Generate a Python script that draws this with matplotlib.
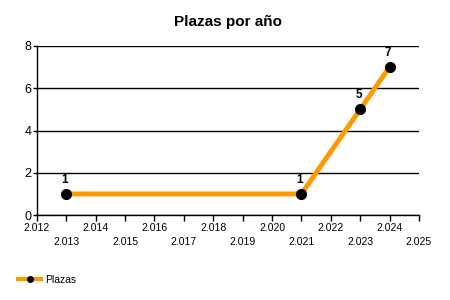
import matplotlib
matplotlib.use("Agg")
import matplotlib.pyplot as plt
from matplotlib.lines import Line2D

plt.rcParams["font.family"] = ["Liberation Sans", "DejaVu Sans"]

# data
years = [2013, 2021, 2023, 2024]
plazas = [1, 1, 5, 7]
x_ticks = list(range(2012, 2026))
y_ticks = [0, 2, 4, 6, 8]

ORANGE = "#FF9900"


def fmt_year(y):
    s = f"{y:,}".replace(",", ".")
    # odd years go on the second row
    return s if y % 2 == 0 else "\n" + s


fig = plt.figure(figsize=(4.5, 3.0), dpi=100)
ax = fig.add_axes([0.082, 0.283, 0.849, 0.564])

ax.plot(years, plazas, color=ORANGE, linewidth=3.5, zorder=3,
        solid_capstyle="butt")
ax.plot(years, plazas, linestyle="none", marker="o", markersize=7,
        color="black", zorder=4)
for x, y in zip(years, plazas):
    ax.annotate(str(y), (x, y), xytext=(-1, 6), textcoords="offset points",
                ha="center", va="bottom", fontsize=8.5, fontweight="bold")

ax.set_xlim(2012, 2025)
ax.set_ylim(0, 8)
ax.set_xticks(x_ticks)
ax.set_xticklabels([fmt_year(y) for y in x_ticks], fontsize=7.5,
                   linespacing=1.5)
ax.set_yticks(y_ticks)
ax.set_yticklabels([str(v) for v in y_ticks], fontsize=9)
ax.tick_params(axis="x", length=4, width=1, pad=2)
ax.tick_params(axis="y", length=3, width=1, pad=1)
ax.yaxis.grid(True, color="black", linewidth=1)
ax.set_axisbelow(True)
for s in ("top", "right"):
    ax.spines[s].set_visible(False)
for s in ("left", "bottom"):
    ax.spines[s].set_linewidth(1)

ax.set_title("Plazas por año", fontsize=11, fontweight="bold", pad=14)

handle = Line2D([], [], color=ORANGE, linewidth=3, marker="o",
                markersize=4, markerfacecolor="black",
                markeredgecolor="black")
fig.legend([handle], ["Plazas"], loc="lower left",
           bbox_to_anchor=(0.02, 0.02), frameon=False, fontsize=7.5,
           handlelength=2.2, handletextpad=0.4)

fig.savefig("out.png", dpi=100, facecolor="white")
